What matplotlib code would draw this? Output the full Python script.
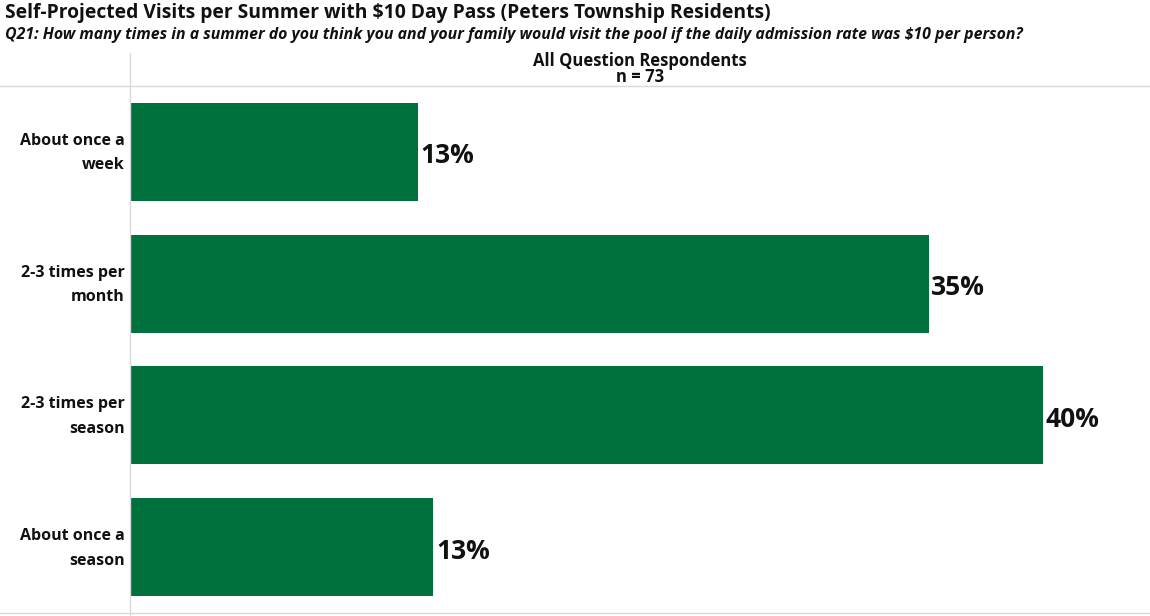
import matplotlib
matplotlib.use("Agg")
import matplotlib.pyplot as plt
import matplotlib.transforms as mtransforms
from matplotlib.lines import Line2D

categories = ["About once a\nweek", "2-3 times per\nmonth", "2-3 times per\nseason", "About once a\nseason"]
values = [12.6, 35.0, 40.0, 13.3]

title = "Self-Projected Visits per Summer with $10 Day Pass (Peters Township Residents)"
subtitle = ("Q21: How many times in a summer do you think you and your family would visit "
            "the pool if the daily admission rate was $10 per person?")
header = "All Question Respondents\nn = 73"

bar_color = "#00713C"
grid_color = "#D9D9D9"
font = ["Open Sans", "DejaVu Sans"]

W, H = 1150, 616
fig = plt.figure(figsize=(W / 100, H / 100), dpi=100)
fig.patch.set_facecolor("white")

left = 130 / W
bottom = (H - 613) / H
top = (H - 86) / H
ax = fig.add_axes([left, bottom, 1 - left, top - bottom])

y = list(range(len(categories)))
ax.barh(y, values, height=0.745, color=bar_color, edgecolor="none")
ax.set_ylim(len(categories) - 0.5, -0.5)
ax.set_xlim(0, 44.7)

for yi, v in zip(y, values):
    ax.text(v + 0.12, yi + 0.03, f"{round(v):.0f}%", va="center", ha="left",
            fontsize=19, fontweight="bold", family=font, color="#111111")

ax.set_xticks([])
ax.set_yticks([])
for s in ax.spines.values():
    s.set_visible(False)

# category labels, right-aligned just left of the axis line
label_tf = mtransforms.blended_transform_factory(
    mtransforms.offset_copy(fig.transFigure, fig=fig, x=-5, units="dots"), ax.transData)
for yi, c in zip(y, categories):
    ax.text(left, yi + 0.01, c, transform=label_tf, va="center", ha="right",
            fontsize=11.5, fontweight="bold", family=font, color="#111111",
            linespacing=1.7)

# frame lines
fig.add_artist(Line2D([0, 1], [top, top], transform=fig.transFigure, color=grid_color, lw=1))
fig.add_artist(Line2D([0, 1], [bottom, bottom], transform=fig.transFigure, color=grid_color, lw=1))
fig.add_artist(Line2D([left, left], [0, (H - 53) / H], transform=fig.transFigure, color=grid_color, lw=1))

fig.text(5 / W, 1 - 13 / H, title, ha="left", va="center", fontsize=13.9,
         fontweight="bold", family=font, color="#111111")
fig.text(5 / W, 1 - 35 / H, subtitle, ha="left", va="center", fontsize=11.4,
         fontweight="bold", fontstyle="italic", family=font, color="#111111")
fig.text((left + 1) / 2, 1 - 69 / H, header, ha="center", va="center", fontsize=12,
         fontweight="bold", family=font, color="#111111", linespacing=0.8)

fig.savefig("out.png", dpi=100, facecolor="white")
